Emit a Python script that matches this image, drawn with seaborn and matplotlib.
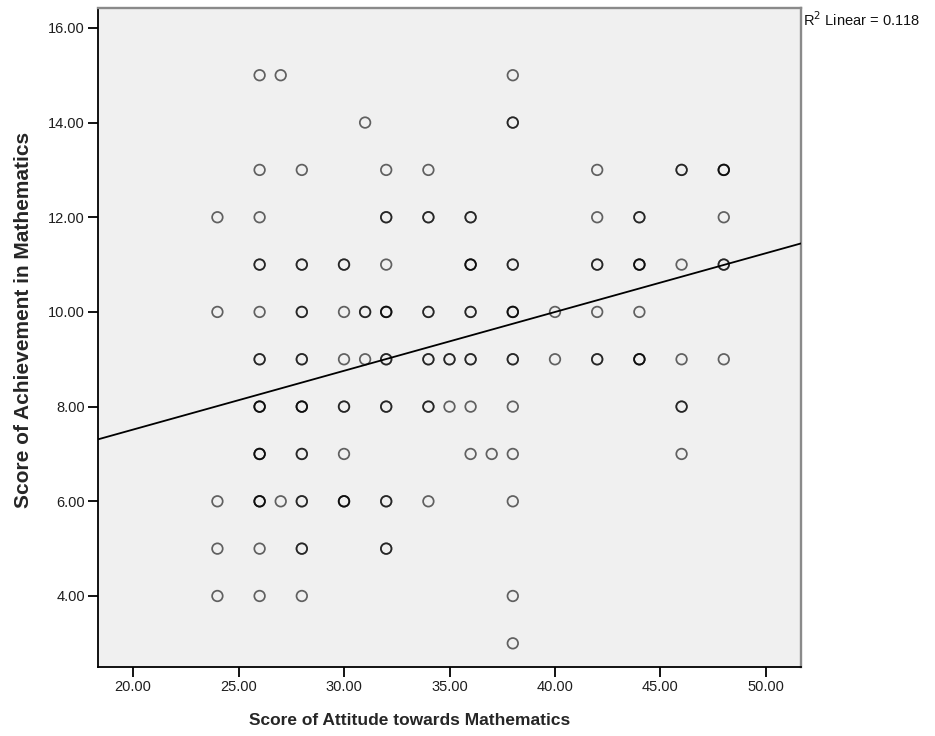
import numpy as np
import pandas as pd
import matplotlib
matplotlib.use("Agg")
import matplotlib.pyplot as plt
import seaborn as sns

# Data: (attitude score, achievement score, number of overlapping cases)
attitude = [26, 27, 38,
            31, 38,
            26, 28, 32, 34, 42, 46, 48,
            24, 26, 32, 34, 36, 42, 44, 48,
            26, 28, 30, 32, 36, 38, 42, 44, 46, 48,
            24, 26, 28, 30, 31, 32, 34, 36, 38, 40, 42, 44,
            26, 28, 30, 31, 32, 34, 35, 36, 38, 40, 42, 44, 46, 48,
            26, 28, 30, 32, 34, 35, 36, 38, 46,
            26, 28, 30, 36, 37, 38, 46,
            24, 26, 27, 28, 30, 32, 34, 38,
            24, 26, 28, 32,
            24, 26, 28, 38,
            38]
achievement = [15, 15, 15,
               14, 14,
               13, 13, 13, 13, 13, 13, 13,
               12, 12, 12, 12, 12, 12, 12, 12,
               11, 11, 11, 11, 11, 11, 11, 11, 11, 11,
               10, 10, 10, 10, 10, 10, 10, 10, 10, 10, 10, 10,
               9, 9, 9, 9, 9, 9, 9, 9, 9, 9, 9, 9, 9, 9,
               8, 8, 8, 8, 8, 8, 8, 8, 8,
               7, 7, 7, 7, 7, 7, 7,
               6, 6, 6, 6, 6, 6, 6, 6,
               5, 5, 5, 5,
               4, 4, 4, 4,
               3]
cases = [1, 1, 1,
         1, 2,
         1, 1, 1, 1, 1, 2, 3,
         1, 1, 2, 2, 2, 1, 2, 1,
         2, 2, 2, 1, 3, 2, 2, 3, 1, 2,
         1, 1, 2, 1, 2, 3, 2, 2, 3, 1, 1, 1,
         2, 2, 1, 1, 2, 2, 2, 2, 2, 1, 2, 3, 1, 1,
         3, 3, 2, 2, 2, 1, 1, 1, 2,
         3, 2, 1, 1, 1, 1, 1,
         1, 3, 1, 2, 3, 2, 1, 1,
         1, 1, 2, 2,
         1, 1, 1, 1,
         1]

x_ticks = [20, 25, 30, 35, 40, 45, 50]
y_ticks = [4, 6, 8, 10, 12, 14, 16]
r2_label = "R$^2$ Linear = 0.118"
x_title = "Score of Attitude towards Mathematics"
y_title = "Score of Achievement in Mathematics"

df = pd.DataFrame({"attitude": np.repeat(attitude, cases),
                   "achievement": np.repeat(achievement, cases)})

sns.set_style("white")
plt.rcParams["font.family"] = ["Liberation Sans", "DejaVu Sans"]

W, H = 935, 736
fig = plt.figure(figsize=(W / 100, H / 100), dpi=100)
ax = fig.add_axes([98 / W, 1 - 667 / H, (801 - 98) / W, (667 - 8) / H])
ax.set_facecolor("#f0f0f0")
ax.set_xlim(18.34, 51.66)
ax.set_ylim(2.5, 16.42)

sns.regplot(data=df, x="attitude", y="achievement", ax=ax, ci=None,
            truncate=False,
            scatter_kws=dict(facecolors="none", edgecolors="black", alpha=0.6,
                             s=58, linewidths=1.25, zorder=3),
            line_kws=dict(color="black", lw=1.3, zorder=4))

ax.set_xlim(18.34, 51.66)
ax.set_ylim(2.5, 16.42)
ax.set_xticks(x_ticks)
ax.set_yticks(y_ticks)
ax.set_xticklabels([f"{v:.2f}" for v in x_ticks])
ax.set_yticklabels([f"{v:.2f}" for v in y_ticks])
ax.tick_params(axis="both", direction="out", length=7, width=1.3,
               color="black", labelsize=10.5, labelcolor="#1e1e1e", pad=2.5,
               bottom=True, left=True)

for side in ["left", "bottom"]:
    ax.spines[side].set_color("black")
    ax.spines[side].set_linewidth(1.3)
for side in ["top", "right"]:
    ax.spines[side].set_color("#8a8a8a")
    ax.spines[side].set_linewidth(1.7)

ax.set_xlabel(x_title, fontsize=12.5, fontweight="bold")
ax.set_ylabel(y_title, fontsize=15, fontweight="bold")
ax.xaxis.set_label_coords((410 - 98) / 703, (667 - 713) / 659)
ax.yaxis.set_label_coords((33 - 98) / 703, (667 - 320) / 659)

fig.text(803 / W, 1 - 20 / H, r2_label, fontsize=10.5, ha="left", va="center",
         color="#111111")

fig.savefig("out.png", dpi=100)
